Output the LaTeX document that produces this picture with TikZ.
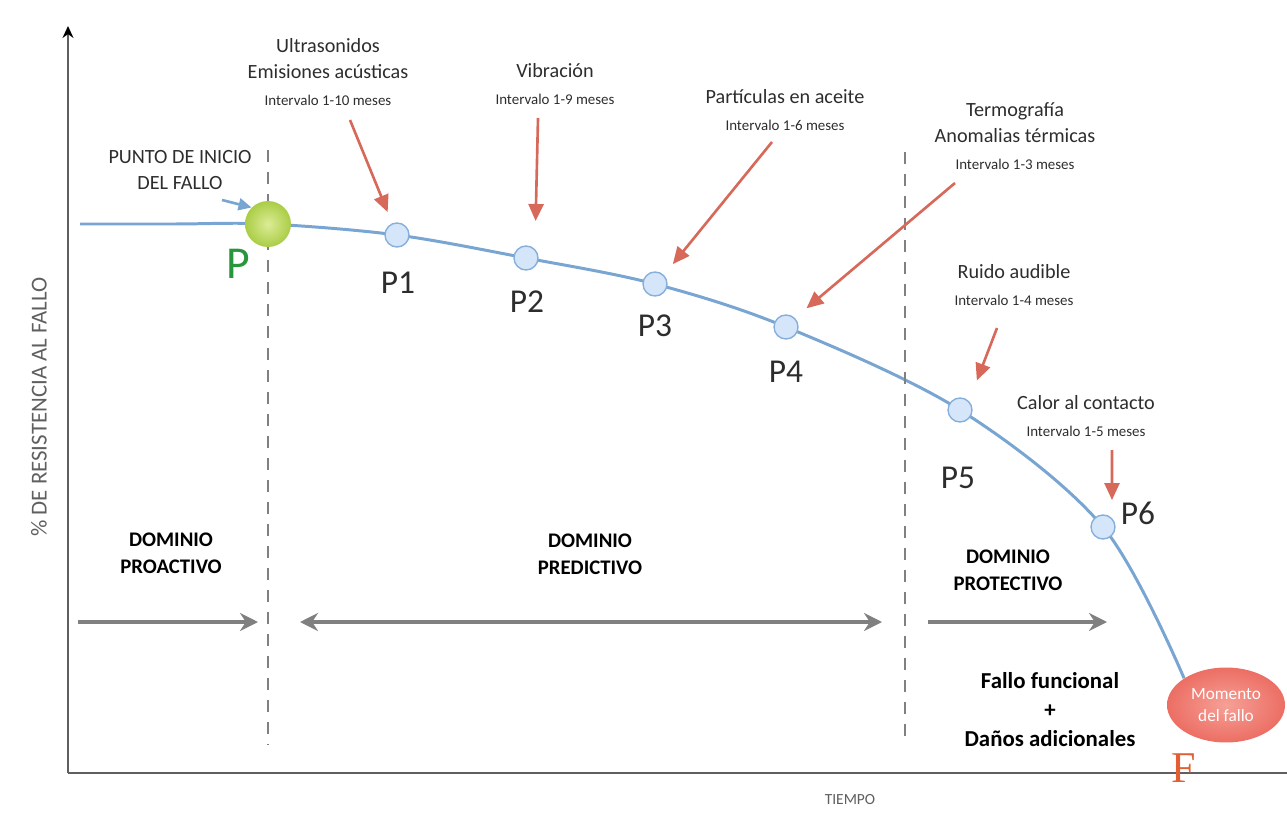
\documentclass[tikz,border=0pt]{standalone}
\usepackage{fontspec}
\setmainfont{Carlito}
\newfontfamily\timesF{Liberation Serif}
\usepackage{xcolor}
\usepackage{tikz}
\usetikzlibrary{arrows.meta,shapes.geometric,backgrounds}
\definecolor{curveblue}{RGB}{120,165,210}
\definecolor{pointfill}{RGB}{214,230,250}
\definecolor{pointedge}{RGB}{135,175,220}
\definecolor{arrowred}{RGB}{215,105,90}
\definecolor{arrowgray}{RGB}{128,128,128}
\definecolor{textdark}{RGB}{45,45,45}
\definecolor{textgray}{RGB}{95,95,95}
\definecolor{pgreen}{RGB}{40,150,60}
\definecolor{fred}{RGB}{225,95,50}
\definecolor{fallored}{RGB}{236,110,100}
\definecolor{fallolight}{RGB}{246,160,150}
\definecolor{startgreen}{RGB}{170,205,70}
\definecolor{startlight}{RGB}{220,236,150}
\newcommand{\intv}[1]{{\fontsize{8.5}{10}\selectfont #1}}

\begin{document}
\begin{tikzpicture}[x=0.02cm,y=-0.02cm,
        curve/.style={curveblue,line width=1.7pt},
        point/.style={circle,draw=pointedge,fill=pointfill,line width=0.8pt,minimum size=0.48cm,inner sep=0pt},
        plabel/.style={text=textdark,font=\fontsize{19}{19}\selectfont},
        method/.style={align=center,text=textdark,font=\fontsize{11.5}{15}\selectfont},
        domainlabel/.style={align=center,text=black,font=\bfseries\fontsize{11.8}{15.5}\selectfont},
        redarrow/.style={arrowred,line width=1.5pt,-{Triangle[length=0.34cm,width=0.3cm]}},
        grayarrow/.style={arrowgray,line width=2.2pt,-{Stealth[length=0.36cm,width=0.36cm]}},
        graydouble/.style={arrowgray,line width=2.2pt,{Stealth[length=0.36cm,width=0.36cm]}-{Stealth[length=0.36cm,width=0.36cm]}},
        divider/.style={arrowgray,line width=1.2pt,dash pattern=on 0.24cm off 0.2cm},
        axisline/.style={textgray,line width=1.2pt}
    ]
        \useasboundingbox (0,0) rectangle (1287,817);
        \coordinate (origin) at (68,773);
        \coordinate (ytop) at (68,26);
        \coordinate (xend) at (1287,773);
        \draw [axisline,-{Stealth[length=0.24cm,width=0.22cm,black]}] (origin) -- (ytop);
        \draw [axisline] (origin) -- (xend);
        \node[rotate=90,text=textgray,font=\fontsize{13}{13}\selectfont] (ylabel) at (39,407) {\% DE RESISTENCIA AL FALLO};
        \node[text=textgray,font=\fontsize{8.8}{10}\selectfont] (xlabel) at (850,800) {TIEMPO};
        \coordinate (div1top) at (268,150);
        \coordinate (div1bot) at (268,745);
        \coordinate (div2top) at (905,152);
        \coordinate (div2bot) at (905,745);
        \draw [divider] (div1top) -- (div1bot);
        \draw [divider] (div2top) -- (div2bot);
        \node[circle,minimum size=0.92cm,inner sep=0pt,inner color=startlight,outer color=startgreen] (p) at (268,224) {};
        \node[point] (p1) at (397,235) {};
        \node[point] (p2) at (526,258) {};
        \node[point] (p3) at (655,284) {};
        \node[point] (p4) at (786,327) {};
        \node[point] (p5) at (960,410) {};
        \node[point] (p6) at (1103,527) {};
        \node[ellipse,minimum width=2.36cm,minimum height=1.5cm,inner sep=0pt,align=center,text=white,font=\fontsize{9.8}{12}\selectfont,inner color=fallolight,outer color=fallored] (fallo) at (1226,705) {Momento\\del fallo};
        \begin{pgfonlayer}{background}
            \draw [curve] plot[smooth,tension=0.55] coordinates {(80,224) (175,224) (p) (p1) (p2) (p3) (p4) (p5) (p6) (fallo.north west)};
        \end{pgfonlayer}
        \node[text=pgreen,font=\fontsize{26}{26}\selectfont] (plab) at (238,264) {P};
        \node[plabel] (p1lab) at (398,283) {P1};
        \node[plabel] (p2lab) at (527,302) {P2};
        \node[plabel] (p3lab) at (655,326) {P3};
        \node[plabel] (p4lab) at (786,372) {P4};
        \node[plabel] (p5lab) at (958,478) {P5};
        \node[plabel] (p6lab) at (1138,513) {P6};
        \node[text=fred,font=\timesF\fontsize{25}{25}\selectfont] (flab) at (1184,768) {F};
        \node[method] (inicio) at (180,170) {PUNTO DE INICIO\\DEL FALLO};
        \node[method] (ultra) at (328,72) {Ultrasonidos\\Emisiones acústicas\\\intv{Intervalo 1-10 meses}};
        \node[method] (vib) at (555,84) {Vibración\\\intv{Intervalo 1-9 meses}};
        \node[method] (part) at (785,110) {Partículas en aceite\\\intv{Intervalo 1-6 meses}};
        \node[method] (termo) at (1015,136) {Termografía\\Anomalias térmicas\\\intv{Intervalo 1-3 meses}};
        \node[method] (ruido) at (1014,285) {Ruido audible\\\intv{Intervalo 1-4 meses}};
        \node[method] (calor) at (1086,416) {Calor al contacto\\\intv{Intervalo 1-5 meses}};
        \coordinate (iniciotail) at (222,200);
        \coordinate (ultratail) at (350,120);
        \coordinate (vibtail) at (538,118);
        \coordinate (parttail) at (772,142);
        \coordinate (termotail) at (955,183);
        \coordinate (ruidotail) at (997,328);
        \coordinate (calortail) at (1112,450);
        \draw [curveblue,line width=1.5pt,-{Triangle[length=0.26cm,width=0.24cm]}] (iniciotail) -- (p.north west);
        \draw [redarrow,shorten >=0.24cm] (ultratail) -- (p1);
        \draw [redarrow,shorten >=0.56cm] (vibtail) -- (p2.north east);
        \draw [redarrow,shorten >=0.28cm] (parttail) -- (p3.north east);
        \draw [redarrow,shorten >=0.3cm] (termotail) -- (p4.north east);
        \draw [redarrow,shorten >=0.44cm] (ruidotail) -- (p5.north east);
        \draw [redarrow,shorten >=0.36cm] (calortail) -- (p6.north east);
        \node[domainlabel] (proactivo) at (171,553) {DOMINIO\\PROACTIVO};
        \node[domainlabel] (predictivo) at (590,554) {DOMINIO\\PREDICTIVO};
        \node[domainlabel] (protectivo) at (1008,570) {DOMINIO\\PROTECTIVO};
        \node[align=center,text=black,font=\bfseries\fontsize{13}{16.5}\selectfont] (funcional) at (1050,710) {Fallo funcional\\+\\Daños adicionales};
        \coordinate (proastart) at (78,622);
        \coordinate (proaend) at (258,622);
        \coordinate (predstart) at (300,622);
        \coordinate (predend) at (882,622);
        \coordinate (protstart) at (928,622);
        \coordinate (protend) at (1107,622);
        \draw [grayarrow] (proastart) -- (proaend);
        \draw [graydouble] (predstart) -- (predend);
        \draw [grayarrow] (protstart) -- (protend);
    \end{tikzpicture}
\end{document}
